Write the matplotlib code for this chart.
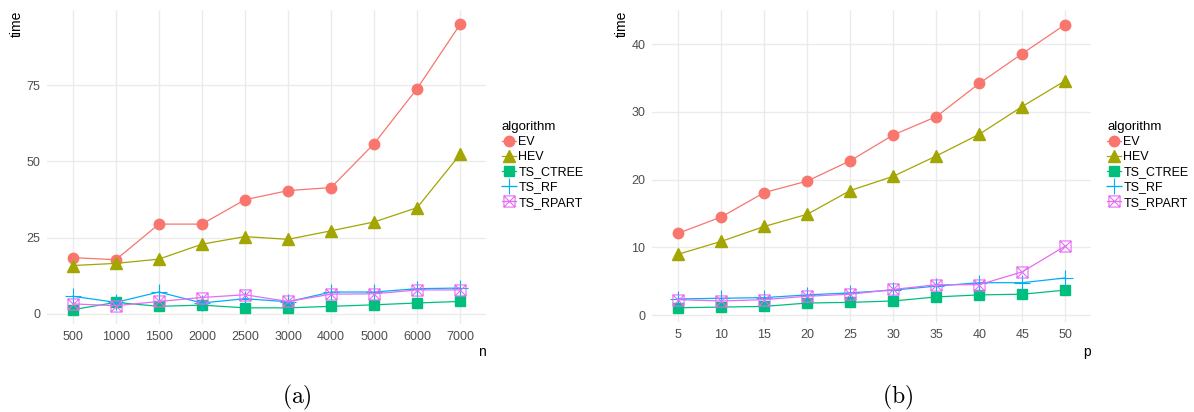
import matplotlib
matplotlib.use('Agg')
import matplotlib.pyplot as plt
from matplotlib.path import Path
from matplotlib.lines import Line2D

plt.rcParams['font.family'] = ['Liberation Sans', 'DejaVu Sans']
plt.rcParams['mathtext.fontset'] = 'cm'

# panel (a): time vs n
n_labels = ['500', '1000', '1500', '2000', '2500', '3000', '4000', '5000', '6000', '7000']
ev_n = [18.4, 17.7, 29.4, 29.4, 37.4, 40.4, 41.4, 55.8, 73.9, 95.0]
hev_n = [15.8, 16.5, 17.9, 22.8, 25.3, 24.4, 27.2, 30.1, 34.8, 52.3]
ctree_n = [1.3, 3.7, 2.4, 2.8, 1.9, 1.9, 2.4, 2.9, 3.5, 4.0]
rf_n = [5.7, 3.7, 7.1, 3.5, 4.9, 3.9, 7.1, 7.1, 8.2, 8.4]
rpart_n = [3.2, 2.6, 4.0, 5.3, 6.2, 4.0, 6.4, 6.5, 7.8, 7.8]

# panel (b): time vs p
p_labels = ['5', '10', '15', '20', '25', '30', '35', '40', '45', '50']
ev_p = [12.1, 14.5, 18.1, 19.8, 22.8, 26.6, 29.3, 34.2, 38.6, 42.9]
hev_p = [9.0, 10.9, 13.1, 14.9, 18.4, 20.5, 23.5, 26.7, 30.8, 34.6]
ctree_p = [1.1, 1.2, 1.3, 1.8, 1.9, 2.1, 2.7, 3.0, 3.1, 3.7]
rf_p = [2.4, 2.5, 2.6, 3.0, 3.3, 3.7, 4.3, 4.8, 4.8, 5.5]
rpart_p = [2.3, 2.1, 2.3, 2.8, 3.1, 3.8, 4.5, 4.5, 6.4, 10.2]

algorithms = ['EV', 'HEV', 'TS_CTREE', 'TS_RF', 'TS_RPART']
colors = ['#F8766D', '#A3A500', '#00BF7D', '#00B0F6', '#E76BF3']

# square with an X inside (ggplot shape 7)
box_x = Path([(-1, -1), (1, -1), (1, 1), (-1, 1), (-1, -1),
              (-1, -1), (1, 1), (-1, 1), (1, -1)],
             [Path.MOVETO, Path.LINETO, Path.LINETO, Path.LINETO, Path.CLOSEPOLY,
              Path.MOVETO, Path.LINETO, Path.MOVETO, Path.LINETO])

styles = [
    dict(marker='o', markersize=7.5, mfc=colors[0], mec=colors[0]),
    dict(marker='^', markersize=9, mfc=colors[1], mec=colors[1]),
    dict(marker='s', markersize=7, mfc=colors[2], mec=colors[2]),
    dict(marker='+', markersize=12, mew=0.8, mec=colors[3]),
    dict(marker=box_x, markersize=8, mfc='none', mec=colors[4], mew=0.8),
]

GRID = '#EBEBEB'
TICK = '#4D4D4D'

fig = plt.figure(figsize=(11.94, 4.12), dpi=100)


def draw_panel(rect, labels, series, ylim, yticks, xlab, legend_x, time_x, cap_x, cap):
    ax = fig.add_axes(rect)
    xs = list(range(len(labels)))
    for vals, col, st in zip(series, colors, styles):
        ax.plot(xs, vals, color=col, linewidth=0.9, **st)
    ax.set_xlim(-0.6, len(labels) - 0.4)
    ax.set_ylim(*ylim)
    ax.set_xticks(xs)
    ax.set_xticklabels(labels)
    ax.set_yticks(yticks)
    ax.grid(True, color=GRID, linewidth=1.0)
    ax.set_axisbelow(True)
    for s in ax.spines.values():
        s.set_visible(False)
    ax.tick_params(length=0, labelsize=9, labelcolor=TICK, pad=5)

    handles = [Line2D([], [], color=c, linewidth=0.9, **st) for c, st in zip(colors, styles)]
    ax.legend(handles, algorithms, title='algorithm', loc='upper left',
              bbox_to_anchor=(legend_x, 1 - 121 / 412), bbox_transform=fig.transFigure,
              frameon=False, fontsize=9, title_fontsize=9.5, handlelength=1.1,
              handletextpad=0.2, labelspacing=0.25, borderpad=0, borderaxespad=0,
              alignment='left')

    fig.text(time_x, 1 - 24 / 412, 'time', rotation=90, ha='center', va='center', fontsize=10)
    right = rect[0] + rect[2]
    fig.text(right, 1 - 352 / 412, xlab, ha='right', va='center', fontsize=10)
    fig.text(cap_x, 1 - 397 / 412, cap, ha='center', va='center', fontsize=17)
    return ax


draw_panel([47 / 1194, 88 / 412, 439 / 1194, 314 / 412], n_labels,
           [ev_n, hev_n, ctree_n, rf_n, rpart_n], (-3.4, 99.7), [0, 25, 50, 75],
           'n', 502 / 1194, 17 / 1194, 297 / 1194, r'$\mathrm{(a)}$')

draw_panel([652.5 / 1194, 90 / 412, 438.5 / 1194, 312.4 / 412], p_labels,
           [ev_p, hev_p, ctree_p, rf_p, rpart_p], (-1.0, 45.1), [0, 10, 20, 30, 40],
           'p', 1107 / 1194, 622 / 1194, 898 / 1194, r'$\mathrm{(b)}$')

fig.savefig('out.png', dpi=100)
